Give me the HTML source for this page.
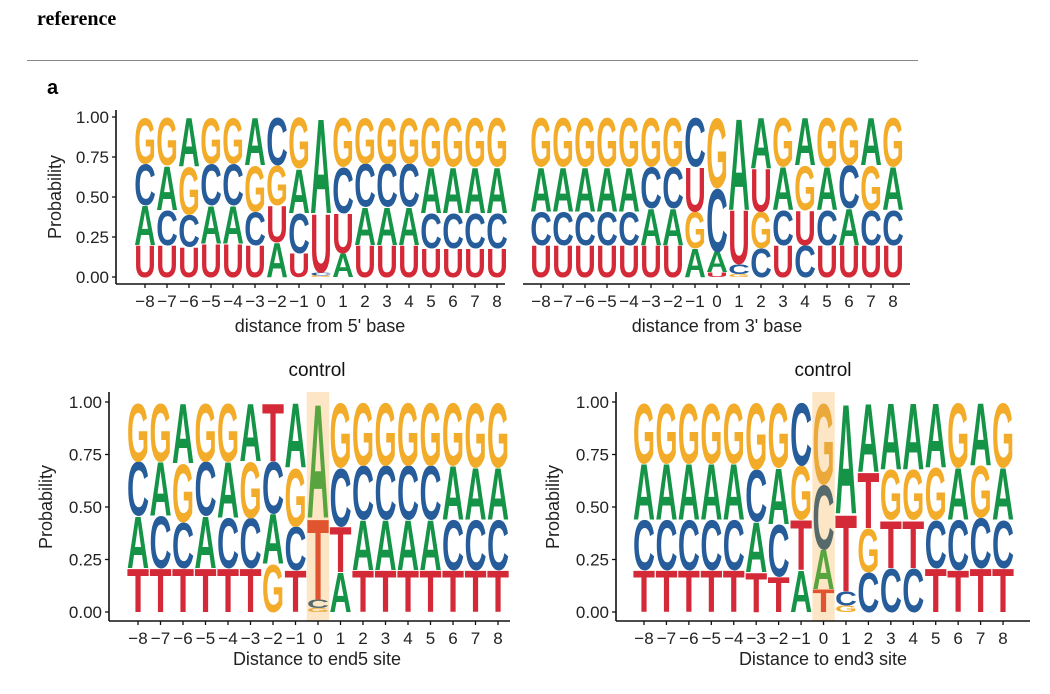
<!DOCTYPE html>
<html><head><meta charset="utf-8">
<style>
html,body{margin:0;padding:0;background:#fff;}
body{width:1050px;height:694px;overflow:hidden;position:relative;font-family:"Liberation Sans",sans-serif;}
#hdr{position:absolute;left:37px;top:8px;font-family:"Liberation Serif",serif;font-weight:bold;font-size:20px;}
#rule{position:absolute;left:27px;top:60px;width:891px;height:1px;background:#888;}
svg{position:absolute;left:0;top:0;}
</style></head>
<body>
<div id="hdr">reference</div>
<div id="rule"></div>
<svg id="fig" width="1050" height="694">
<text x="47" y="94" font-family="Liberation Sans" font-weight="bold" font-size="20">a</text>
</svg>
<script>
const positions = [-8,-7,-6,-5,-4,-3,-2,-1,0,1,2,3,4,5,6,7,8];
const yTicks = [0,0.25,0.5,0.75,1];
const yTickLabels = ["0.00","0.25","0.50","0.75","1.00"];
// panel 1: distance from 5' base
const p1A = [.25,.28,.31,.24,.24,.30,.22,.28,.60,.15,.24,.24,.24,.29,.29,.29,.29];
const p1C = [.26,.22,.20,.26,.26,.21,.30,.25,.02,.29,.27,.27,.27,.22,.22,.22,.22];
const p1G = [.29,.30,.30,.29,.29,.29,.25,.32,.01,.31,.29,.29,.29,.31,.31,.31,.31];
const p1U = [.20,.20,.19,.21,.21,.20,.23,.15,.37,.25,.20,.20,.20,.18,.18,.18,.18];
// panel 2: distance from 3' base
const p2A = [.28,.28,.28,.28,.28,.23,.23,.18,.13,.58,.32,.27,.30,.27,.23,.30,.27];
const p2C = [.21,.21,.21,.21,.21,.26,.26,.31,.40,.06,.18,.22,.20,.22,.27,.22,.22];
const p2G = [.31,.31,.31,.31,.31,.31,.31,.23,.44,.02,.23,.31,.28,.31,.30,.28,.31];
const p2U = [.20,.20,.20,.20,.20,.20,.20,.28,.03,.34,.27,.20,.22,.20,.20,.20,.20];
// panel 3: control end5
const p3A = [.25,.26,.29,.25,.27,.28,.24,.31,.55,.19,.24,.24,.24,.24,.26,.25,.25];
const p3C = [.26,.25,.22,.26,.24,.24,.25,.21,.04,.28,.26,.26,.26,.26,.24,.24,.24];
const p3G = [.28,.28,.28,.28,.28,.27,.23,.28,.02,.31,.30,.30,.30,.30,.30,.31,.31];
const p3T = [.21,.21,.21,.21,.21,.21,.28,.20,.39,.22,.20,.20,.20,.20,.20,.20,.20];
// panel 4: control end3
const p4A = [.27,.27,.27,.27,.27,.24,.27,.20,.19,.53,.33,.32,.32,.31,.25,.30,.25];
const p4C = [.24,.24,.24,.24,.24,.25,.25,.30,.31,.07,.19,.21,.21,.23,.24,.24,.23];
const p4G = [.29,.29,.29,.29,.29,.32,.31,.26,.39,.03,.21,.24,.24,.25,.31,.25,.31];
const p4T = [.20,.20,.20,.20,.20,.19,.17,.24,.11,.37,.27,.23,.23,.21,.20,.21,.21];

const NS="http://www.w3.org/2000/svg";
const svg=document.getElementById('fig');
const COL={A:'#159447',C:'#255c99',G:'#f2ac2a',U:'#d42a38',T:'#d42a38'};
const HCOL={A:'#58a540',C:'#566a6c',G:'#eaa93a',U:'#e0552f',T:'#e0552f'};
function mk(tag,attrs,parent){const e=document.createElementNS(NS,tag);for(const k in attrs)e.setAttribute(k,attrs[k]);(parent||svg).appendChild(e);return e;}

function drawPanel(cfg,series){
  const g=mk('g',{});
  
  
  const yS=v=>cfg.y0-(cfg.y0-cfg.y1)*v;
  const xS=p=>cfg.x0+(p-positions[0])*cfg.dx;
  if(cfg.highlight){
    const r=mk('rect',{x:xS(0)-cfg.dx*0.5,y:cfg.hlTop,width:cfg.dx,height:cfg.axisY-cfg.hlTop,fill:'#fde6c6'},g);
    
    
  }
  const w=cfg.dx*0.98;
  positions.forEach((p,i)=>{
    const items=Object.keys(series).map(k=>({k,v:series[k][i]})).sort((a,b)=>a.v-b.v);
    let cum=0;
    items.forEach(it=>{
      const yb=yS(cum), yt=yS(cum+it.v); cum+=it.v;
      const h=yb-yt; if(h<0.5) return;
      const t=mk('text',{x:0,y:0,'font-size':100,'font-family':'Liberation Sans','font-weight':'bold',
        textLength:60,lengthAdjust:'spacingAndGlyphs',
        fill:(cfg.highlight&&p===0)?HCOL[it.k]:COL[it.k],
        transform:`translate(${xS(p)-w/2},${yb}) scale(${w/60},${h/71})`},g);
      t.textContent=it.k;
      
      
    });
  });
  mk('line',{x1:cfg.axStart,x2:cfg.axEnd,y1:cfg.axisY,y2:cfg.axisY,stroke:'#111','stroke-width':1.6},g);
  positions.forEach(p=>{
    mk('line',{x1:xS(p),x2:xS(p),y1:cfg.axisY,y2:cfg.axisY+4,stroke:'#111','stroke-width':1.3},g);
    const t=mk('text',{x:xS(p),y:cfg.axisY+23,'text-anchor':'middle','font-size':17,fill:'#222'},g);
    t.textContent=p<0?'\u2212'+(-p):String(p);
    
    
  });
  const xt=mk('text',{x:cfg.xTitleX,y:cfg.xTitleY,'text-anchor':'middle','font-size':18,fill:'#222'},g);
  xt.textContent=cfg.xTitle;
  
  
  if(cfg.yAxisX){
    mk('line',{x1:cfg.yAxisX,x2:cfg.yAxisX,y1:cfg.yAxisTop,y2:cfg.axisY,stroke:'#111','stroke-width':1.6},g);
    yTicks.forEach((v,i)=>{
      mk('line',{x1:cfg.yAxisX-4,x2:cfg.yAxisX,y1:yS(v),y2:yS(v),stroke:'#111','stroke-width':1.3},g);
      const t=mk('text',{x:cfg.yAxisX-7,y:yS(v)+6,'text-anchor':'end','font-size':17,fill:'#222'},g);
      t.textContent=yTickLabels[i];
      
      
    });
    const yt=mk('text',{x:0,y:0,'text-anchor':'middle','font-size':18,fill:'#222',transform:`translate(${cfg.yTitleX},${cfg.yTitleY}) rotate(-90)`},g);
    yt.textContent='Probability';
    
    
  }
  if(cfg.title){
    const tt=mk('text',{x:cfg.xTitleX,y:cfg.titleY,'text-anchor':'middle','font-size':19,fill:'#111'},g);
    tt.textContent=cfg.title;
    
    
  }
}

drawPanel({name:'logo-5prime',x0:145,dx:22,y0:277,y1:117,axisY:284,axStart:116,axEnd:505,
  xTitle:"distance from 5' base",xTitleX:320,xTitleY:332,yAxisX:116,yAxisTop:110,yTitleX:61,yTitleY:197},
  {A:p1A,C:p1C,G:p1G,U:p1U});
drawPanel({name:'logo-3prime',x0:541,dx:22,y0:277,y1:117,axisY:284,axStart:523,axEnd:910,
  xTitle:"distance from 3' base",xTitleX:717,xTitleY:332},
  {A:p2A,C:p2C,G:p2G,U:p2U});
drawPanel({name:'logo-control-end5',x0:138,dx:22.5,y0:612,y1:402,axisY:621,axStart:109,axEnd:510,highlight:true,hlTop:392,
  xTitle:"Distance to  end5 site",xTitleX:317,xTitleY:665,yAxisX:109,yAxisTop:392,yTitleX:52,yTitleY:507,title:'control',titleY:376},
  {A:p3A,C:p3C,G:p3G,T:p3T});
drawPanel({name:'logo-control-end3',x0:644,dx:22.44,y0:612,y1:402,axisY:621,axStart:616,axEnd:1030,highlight:true,hlTop:392,
  xTitle:"Distance to  end3 site",xTitleX:823,xTitleY:665,yAxisX:616,yAxisTop:392,yTitleX:559,yTitleY:507,title:'control',titleY:376},
  {A:p4A,C:p4C,G:p4G,T:p4T});
</script>
</body></html>
